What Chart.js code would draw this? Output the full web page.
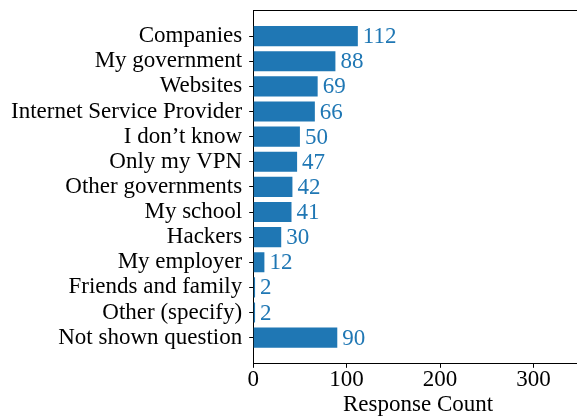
<!DOCTYPE html>
<html>
<head>
<meta charset="utf-8">
<script src="https://cdn.jsdelivr.net/npm/chart.js@4/dist/chart.umd.min.js"></script>
<style>
  html, body { margin: 0; padding: 0; background: #fff; overflow: hidden; width: 577px; height: 419px; }
  #wrap { width: 590px; height: 419px; }
</style>
</head>
<body>
<div id="wrap"><canvas id="grafico" width="590" height="419"></canvas></div>
<script>
// Datos del gráfico
const categorias = ['Companies', 'My government', 'Websites', 'Internet Service Provider', 'I don\u2019t know',
    'Only my VPN', 'Other governments', 'My school', 'Hackers', 'My employer',
    'Friends and family', 'Other (specify)', 'Not shown question'];
const respuestas = [112, 88, 69, 66, 50, 47, 42, 41, 30, 12, 2, 2, 90];
const ticksX = [0, 100, 200, 300];

const AZUL = '#1f77b4';
const FUENTE = "'Liberation Serif', 'Times New Roman', serif";
const TAM = 23;

// Etiquetas de valor al final de cada barra
const etiquetasValor = {
    id: 'etiquetasValor',
    afterDatasetsDraw(chart) {
        const ctx = chart.ctx;
        const meta = chart.getDatasetMeta(0);
        ctx.save();
        ctx.font = TAM + 'px ' + FUENTE;
        ctx.fillStyle = AZUL;
        ctx.textAlign = 'left';
        ctx.textBaseline = 'middle';
        meta.data.forEach((bar, i) => {
            ctx.fillText(String(respuestas[i]), bar.x + 5, bar.y + 1);
        });
        ctx.restore();
    }
};

// Marco superior y derecho
const marco = {
    id: 'marco',
    afterDraw(chart) {
        const a = chart.chartArea;
        const ctx = chart.ctx;
        ctx.save();
        ctx.strokeStyle = '#000';
        ctx.lineWidth = 1;
        ctx.beginPath();
        ctx.moveTo(Math.round(a.left) + 0.5, Math.round(a.top) + 0.5);
        ctx.lineTo(Math.round(a.right) + 0.5, Math.round(a.top) + 0.5);
        ctx.lineTo(Math.round(a.right) + 0.5, Math.round(a.bottom) + 0.5);
        ctx.stroke();
        ctx.restore();
    }
};

new Chart(document.getElementById('grafico'), {
    type: 'bar',
    data: {
        datasets: [{
            data: respuestas.map((v, i) => ({ x: v, y: i })),
            backgroundColor: AZUL,
            borderWidth: 0,
            barPercentage: 0.8,
            categoryPercentage: 1.0
        }]
    },
    options: {
        indexAxis: 'y',
        responsive: false,
        animation: false,
        layout: { padding: { left: 4, right: 7, top: 10, bottom: 0 } },
        plugins: { legend: { display: false }, tooltip: { enabled: false } },
        scales: {
            y: {
                type: 'linear',
                reverse: true,
                offset: false,
                min: -1.04,
                max: 13.04,
                afterBuildTicks(scale) {
                    scale.ticks = categorias.map((c, i) => ({ value: i }));
                },
                afterFit(scale) {
                    scale.paddingTop = 0;
                    scale.paddingBottom = 0;
                },
                ticks: {
                    autoSkip: false,
                    callback: (v) => categorias[v],
                    color: '#000',
                    font: { family: FUENTE, size: TAM },
                    padding: 7
                },
                grid: { offset: false, drawOnChartArea: false, tickLength: 4, color: '#000', tickWidth: 1 },
                border: { color: '#000', width: 1 }
            },
            x: {
                type: 'linear',
                min: 0,
                max: 353,
                afterBuildTicks(scale) {
                    scale.ticks = ticksX.map(v => ({ value: v }));
                },
                ticks: {
                    color: '#000',
                    font: { family: FUENTE, size: TAM },
                    padding: -2
                },
                grid: { drawOnChartArea: false, tickLength: 4, color: '#000', tickWidth: 1 },
                border: { color: '#000', width: 1 },
                title: {
                    display: true,
                    text: 'Response Count',
                    color: '#000',
                    font: { family: FUENTE, size: TAM },
                    padding: { top: 0, bottom: 0 }
                }
            }
        }
    },
    plugins: [etiquetasValor, marco]
});
</script>
</body>
</html>
